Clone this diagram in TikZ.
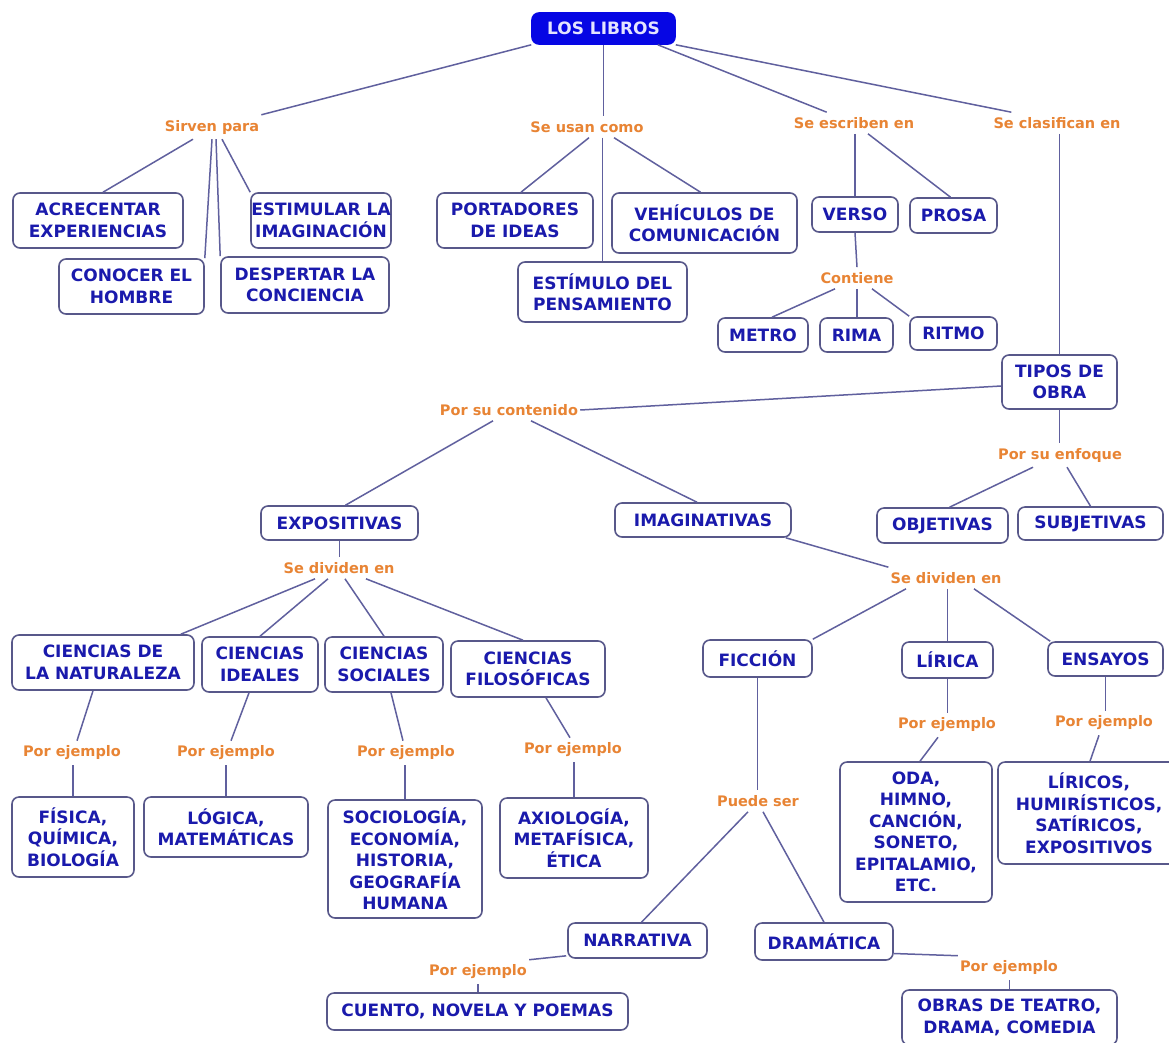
\documentclass[tikz,border=0pt]{standalone}
\usepackage{fontspec}
\setmainfont{DejaVu Sans}
\usetikzlibrary{calc}

\definecolor{boxtext}{RGB}{26,26,172}
\definecolor{boxline}{RGB}{88,88,138}
\definecolor{wire}{RGB}{96,96,158}
\definecolor{linkword}{RGB}{232,132,52}
\definecolor{rootfill}{RGB}{6,6,228}
\definecolor{roottext}{RGB}{228,228,255}

\tikzset{
  box/.style={draw=boxline, line width=1.6pt, rounded corners=7pt, fill=white,
    text=boxtext, align=center, inner sep=0pt,
    font=\fontsize{17}{21.5}\selectfont\bfseries},
  rootbox/.style={box, draw=rootfill, fill=rootfill, text=roottext},
  link/.style={text=linkword, inner xsep=2pt, inner ysep=5pt,
    font=\fontsize{14.5}{17}\selectfont\bfseries},
  wirestyle/.style={draw=wire, line width=1.5pt},
}

\newcommand{\bx}[6]{\node[#1, minimum width=#4pt, minimum height=#5pt] (#2) at #3 {#6};}

\begin{document}
\begin{tikzpicture}[x=1pt,y=-1pt]
\fill[white] (0,0) rectangle (1169,1042);
\useasboundingbox (0,0) rectangle (1169,1042);

% ---- top level ----
\bx{rootbox}{root}{(603.5,28.5)}{143}{31}{LOS LIBROS}
\node[link] (sirven) at (212,127) {Sirven para};
\node[link] (usan) at (587,127) {Se usan como};
\node[link] (escriben) at (854,123) {Se escriben en};
\node[link] (clasifican) at (1057,123) {Se clasifican en};

% ---- uses ----
\bx{box}{acrecentar}{(98,220.5)}{170}{55}{ACRECENTAR\\EXPERIENCIAS}
\bx{box}{estimular}{(321,220.5)}{140}{55}{ESTIMULAR LA\\IMAGINACIÓN}
\bx{box}{conocer}{(131.5,286.5)}{145}{55}{CONOCER EL\\HOMBRE}
\bx{box}{despertar}{(305,285)}{168}{56}{DESPERTAR LA\\CONCIENCIA}
\bx{box}{portadores}{(515,220.5)}{156}{55}{PORTADORES\\DE IDEAS}
\bx{box}{vehiculos}{(704.5,223)}{185}{60}{VEHÍCULOS DE\\COMUNICACIÓN}
\bx{box}{estimulo}{(602.5,292)}{169}{60}{ESTÍMULO DEL\\PENSAMIENTO}

% ---- form ----
\bx{box}{verso}{(855,214.5)}{86}{35}{VERSO}
\bx{box}{prosa}{(953.5,215.5)}{87}{35}{PROSA}
\node[link] (contiene) at (857,278) {Contiene};
\bx{box}{metro}{(763,335)}{90}{34}{METRO}
\bx{box}{rima}{(856.5,335)}{73}{34}{RIMA}
\bx{box}{ritmo}{(953.5,333.5)}{87}{33}{RITMO}

% ---- types of work ----
\bx{box}{tipos}{(1059.5,382)}{115}{54}{TIPOS DE\\OBRA}
\node[link] (contenido) at (509,410) {Por su contenido};
\node[link] (enfoque) at (1060,455) {Por su enfoque};
\bx{box}{objetivas}{(942.5,525.5)}{131}{35}{OBJETIVAS}
\bx{box}{subjetivas}{(1090.5,523.5)}{145}{33}{SUBJETIVAS}
\bx{box}{expositivas}{(339.5,523)}{157}{34}{EXPOSITIVAS}
\bx{box}{imaginativas}{(703,520)}{176}{34}{IMAGINATIVAS}
\node[link] (dividenL) at (339,568) {Se dividen en};
\node[link] (dividenR) at (946,578) {Se dividen en};

% ---- expository branches ----
\bx{box}{cn}{(103,662.5)}{182}{55}{CIENCIAS DE\\LA NATURALEZA}
\bx{box}{ci}{(260,664.5)}{116}{55}{CIENCIAS\\IDEALES}
\bx{box}{cs}{(384,664.5)}{118}{55}{CIENCIAS\\SOCIALES}
\bx{box}{cf}{(528,669)}{154}{56}{CIENCIAS\\FILOSÓFICAS}
\node[link] (pe1) at (72,753) {Por ejemplo};
\node[link] (pe2) at (226,753) {Por ejemplo};
\node[link] (pe3) at (406,753) {Por ejemplo};
\node[link] (pe4) at (573,750) {Por ejemplo};
\bx{box}{fisica}{(73,837)}{122}{80}{FÍSICA,\\QUÍMICA,\\BIOLOGÍA}
\bx{box}{logica}{(226,827)}{164}{60}{LÓGICA,\\MATEMÁTICAS}
\bx{box}{soc}{(405,859)}{154}{118}{SOCIOLOGÍA,\\ECONOMÍA,\\HISTORIA,\\GEOGRAFÍA\\HUMANA}
\bx{box}{axio}{(574,838)}{148}{80}{AXIOLOGÍA,\\METAFÍSICA,\\ÉTICA}

% ---- imaginative branches ----
\bx{box}{ficcion}{(757.5,658.5)}{109}{37}{FICCIÓN}
\bx{box}{lirica}{(947.5,660)}{91}{36}{LÍRICA}
\bx{box}{ensayos}{(1105.5,659)}{115}{34}{ENSAYOS}
\node[link] (pe7) at (947,725) {Por ejemplo};
\node[link] (pe8) at (1104,723) {Por ejemplo};
\bx{box}{oda}{(916,832)}{152}{140}{ODA,\\HIMNO,\\CANCIÓN,\\SONETO,\\EPITALAMIO,\\ETC.}
\bx{box}{liricos}{(1089,813)}{182}{102}{LÍRICOS,\\HUMIRÍSTICOS,\\SATÍRICOS,\\EXPOSITIVOS}
\node[link] (puede) at (758,801) {Puede ser};
\bx{box}{narrativa}{(637.5,940.5)}{139}{35}{NARRATIVA}
\bx{box}{dramatica}{(824,941.5)}{138}{37}{DRAMÁTICA}
\node[link] (pe5) at (478,972) {Por ejemplo};
\node[link] (pe6) at (1009,968) {Por ejemplo};
\bx{box}{cuento}{(477.5,1011.5)}{301}{37}{CUENTO, NOVELA Y POEMAS}
\bx{box}{obras}{(1009.5,1017.5)}{215}{55}{OBRAS DE TEATRO,\\DRAMA, COMEDIA}

% ---- connectors ----
\begin{scope}[wirestyle]
\draw (root.south west) -- (sirven.north east);
\draw (root.south) -- (root.south |- usan.north);
\draw ([xshift=-18pt]root.south east) -- ([xshift=35pt]escriben.north west);
\draw (root.south east) -- ([xshift=20pt]clasifican.north west);

\draw ([xshift=-19pt]sirven.south) -- ([xshift=5pt]acrecentar.north);
\draw (sirven.south) -- (conocer.north east);
\draw ([xshift=4pt]sirven.south) -- (despertar.north west);
\draw ([xshift=10pt]sirven.south) -- (estimular.north west);

\draw ([xshift=2pt]usan.south) -- ([xshift=6pt]portadores.north);
\draw (estimulo.north |- usan.south) -- (estimulo.north);
\draw ([xshift=27pt]usan.south) -- ([xshift=-4pt]vehiculos.north);

\draw (verso.north |- escriben.south) -- (verso.north);
\draw ([xshift=14pt]escriben.south) -- ([xshift=-3pt]prosa.north);
\draw (verso.south) -- (contiene.north);
\draw ([xshift=-22pt]contiene.south) -- ([xshift=9pt]metro.north);
\draw (contiene.south) -- (contiene.south |- rima.north);
\draw ([xshift=15pt]contiene.south) -- (ritmo.north west);

\draw (tipos.north |- clasifican.south) -- (tipos.north);
\draw ([yshift=-4pt]tipos.west) -- (contenido.east);
\draw (tipos.south) -- (tipos.south |- enfoque.north);
\draw ([xshift=-27pt]enfoque.south) -- ([xshift=7pt]objetivas.north);
\draw ([xshift=7pt]enfoque.south) -- (subjetivas.north);

\draw ([xshift=-16pt]contenido.south) -- ([xshift=6pt]expositivas.north);
\draw ([xshift=22pt]contenido.south) -- ([xshift=-6pt]imaginativas.north);
\draw (expositivas.south) -- (expositivas.south |- dividenL.north);
\draw ([xshift=-24pt]dividenL.south) -- ([xshift=-14pt]cn.north east);
\draw ([xshift=-11pt]dividenL.south) -- (ci.north);
\draw ([xshift=6pt]dividenL.south) -- (cs.north);
\draw ([xshift=27pt]dividenL.south) -- ([xshift=-5pt]cf.north);

\draw ([xshift=-10pt]cn.south) -- ([xshift=5pt]pe1.north);
\draw (fisica.north |- pe1.south) -- (fisica.north);
\draw ([xshift=-11pt]ci.south) -- ([xshift=5pt]pe2.north);
\draw (logica.north |- pe2.south) -- (logica.north);
\draw ([xshift=7pt]cs.south) -- ([xshift=-3pt]pe3.north);
\draw (soc.north |- pe3.south) -- (soc.north);
\draw ([xshift=18pt]cf.south) -- ([xshift=-3pt]pe4.north);
\draw (axio.north |- pe4.south) -- (axio.north);

\draw ([xshift=-6pt]imaginativas.south east) -- (dividenR.north west);
\draw ([xshift=-40pt]dividenR.south) -- (ficcion.north east);
\draw (lirica.north |- dividenR.south) -- (lirica.north);
\draw ([xshift=28pt]dividenR.south) -- ([xshift=3pt]ensayos.north west);

\draw (lirica.south) -- (lirica.south |- pe7.north);
\draw ([xshift=-9pt]pe7.south) -- ([xshift=4pt]oda.north);
\draw (ensayos.south) -- (ensayos.south |- pe8.north);
\draw ([xshift=-5pt]pe8.south) -- ([xshift=1pt]liricos.north);

\draw (ficcion.south) -- (ficcion.south |- puede.north);
\draw ([xshift=-10pt]puede.south) -- ([xshift=4pt]narrativa.north);
\draw ([xshift=5pt]puede.south) -- (dramatica.north);
\draw ([xshift=-1pt,yshift=3pt]narrativa.south west) -- (pe5.north east);
\draw (pe5.south) -- (pe5.south |- cuento.north);
\draw ([yshift=-12pt]dramatica.east) -- (pe6.north west);
\draw (obras.north |- pe6.south) -- (obras.north);
\end{scope}
\end{tikzpicture}
\end{document}
